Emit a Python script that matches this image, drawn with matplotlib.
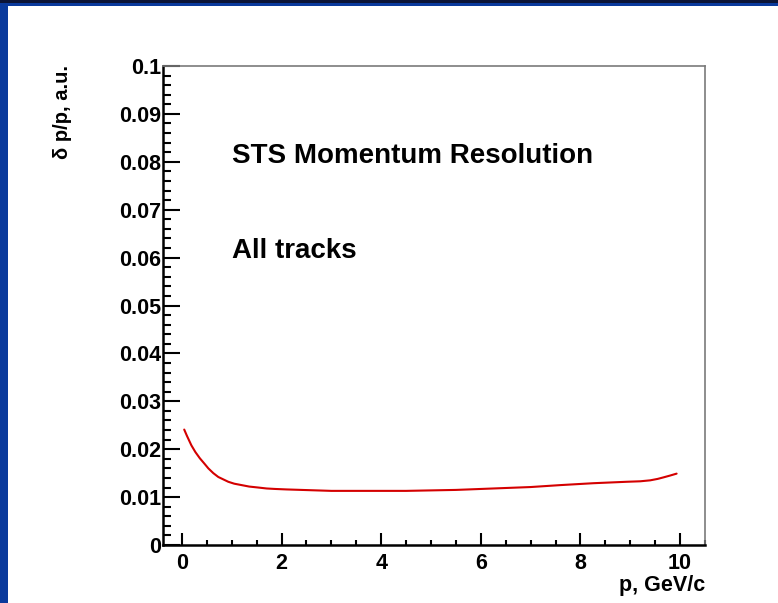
import matplotlib
matplotlib.use("Agg")
import matplotlib.pyplot as plt
from matplotlib.patches import Rectangle
from matplotlib.ticker import MultipleLocator, FixedLocator

# Momentum resolution of reconstructed tracks
p_gev = [0.046, 0.1, 0.19, 0.27, 0.36, 0.45, 0.53, 0.63, 0.73, 0.83, 0.93,
         1.05, 1.2, 1.35, 1.53, 1.7, 1.87, 2.1, 2.4, 2.7, 3.0, 3.5,
         4.0, 4.5, 5.0, 5.5, 6.0, 6.5, 7.0, 7.59, 8.26, 8.93, 9.2, 9.4,
         9.55, 9.66, 9.8, 9.93]
dp_over_p = [0.0241, 0.0228, 0.0208, 0.0194, 0.0181, 0.0170, 0.0160, 0.0150,
             0.0142, 0.0137, 0.0132, 0.0128, 0.0125, 0.0122, 0.0120, 0.0118,
             0.0117, 0.0116, 0.0115, 0.0114, 0.0113, 0.0113, 0.0113, 0.0113,
             0.0114, 0.0115, 0.0117, 0.0119, 0.0121, 0.0125, 0.0129, 0.0132,
             0.0133, 0.0135, 0.0138, 0.0141, 0.0145, 0.0149]

y_ticks = [0, 0.01, 0.02, 0.03, 0.04, 0.05, 0.06, 0.07, 0.08, 0.09, 0.1]
y_tick_labels = ["0", "0.01", "0.02", "0.03", "0.04", "0.05", "0.06",
                 "0.07", "0.08", "0.09", "0.1"]
x_ticks = [0, 2, 4, 6, 8, 10]
x_tick_labels = ["0", "2", "4", "6", "8", "10"]

title_text = "STS Momentum Resolution"
subtitle_text = "All tracks"
x_title = "p, GeV/c"
y_title = "\u03b4 p/p, a.u."

plt.rcParams["font.family"] = ["Liberation Sans", "DejaVu Sans"]

W, H = 778, 603
fig = plt.figure(figsize=(W / 100, H / 100), dpi=100)
fig.patch.set_facecolor("white")

# slide frame: blue strip on the left, dark/blue band on top
fig.patches.append(Rectangle((0, 0), 8 / W, 1, transform=fig.transFigure,
                             facecolor="#0a3a9c", edgecolor="none", zorder=0))
fig.patches.append(Rectangle((0, 1 - 6 / H), 1, 6 / H, transform=fig.transFigure,
                             facecolor="#0a3a9c", edgecolor="none", zorder=0))
fig.patches.append(Rectangle((0, 1 - 3 / H), 1, 3 / H, transform=fig.transFigure,
                             facecolor="#0b1436", edgecolor="none", zorder=0))

left, right, bottom, top = 163 / W, 705 / W, (H - 545) / H, (H - 66) / H
ax = fig.add_axes([left, bottom, right - left, top - bottom])

ax.plot(p_gev, dp_over_p, color="#d40000", lw=1.5, solid_capstyle="round",
        solid_joinstyle="round")

ax.set_xlim(-0.38, 10.5)
ax.set_ylim(0, 0.1)

ax.yaxis.set_major_locator(FixedLocator(y_ticks))
ax.set_yticklabels(y_tick_labels)
ax.yaxis.set_minor_locator(MultipleLocator(0.002))
ax.xaxis.set_major_locator(FixedLocator(x_ticks))
ax.set_xticklabels(x_tick_labels)
ax.xaxis.set_minor_locator(MultipleLocator(0.5))

ax.tick_params(axis="y", which="major", direction="in", length=12, width=1.5,
               pad=1, labelsize=15.5)
ax.tick_params(axis="y", which="minor", direction="in", length=5.8, width=1.5)
ax.tick_params(axis="x", which="major", direction="in", length=8.6, width=1.5,
               pad=6, labelsize=15.5)
ax.tick_params(axis="x", which="minor", direction="in", length=3.6, width=1.5)
for lab in ax.get_xticklabels() + ax.get_yticklabels():
    lab.set_fontweight("bold")

for side in ("left", "bottom"):
    ax.spines[side].set_linewidth(1.8)
    ax.spines[side].set_color("black")
for side in ("top", "right"):
    ax.spines[side].set_linewidth(1.2)
    ax.spines[side].set_color("#7a7a7a")

fig.text(232 / W, 1 - 163 / H, title_text, fontsize=20, fontweight="bold",
         ha="left", va="baseline")
fig.text(232 / W, 1 - 258 / H, subtitle_text, fontsize=20, fontweight="bold",
         ha="left", va="baseline")
fig.text(705 / W, 1 - 585 / H, x_title, fontsize=15.5, fontweight="bold",
         ha="right", va="center")
fig.text(63 / W, 1 - 65 / H, y_title, fontsize=14.5, fontweight="bold",
         rotation=90, ha="center", va="top")

fig.savefig("out.png", dpi=100, facecolor=fig.get_facecolor())
